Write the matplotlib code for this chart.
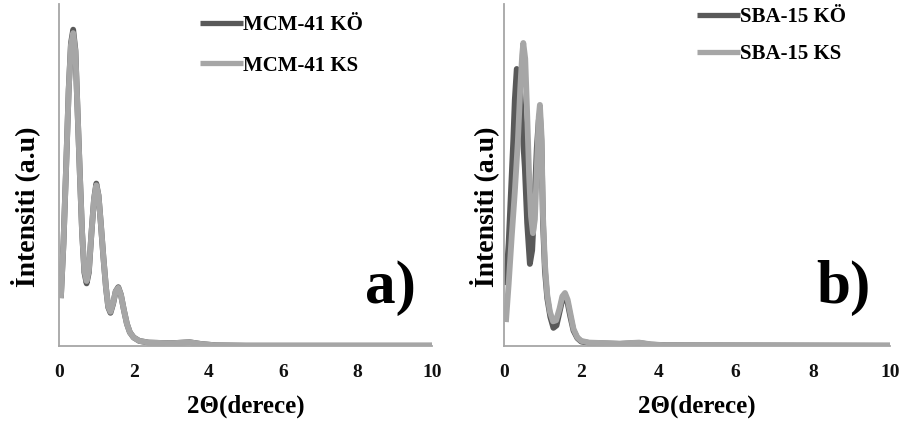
import matplotlib
matplotlib.use("Agg")
import matplotlib.pyplot as plt

# ---- data ----
two_theta_mcm = [0.05, 0.12, 0.19, 0.26, 0.32, 0.38, 0.44, 0.50, 0.56, 0.62, 0.68, 0.74,
                 0.80, 0.87, 0.94, 1.00, 1.06, 1.12, 1.19, 1.26, 1.32, 1.38, 1.45, 1.52,
                 1.59, 1.66, 1.74, 1.82, 1.90, 2.00, 2.15, 2.40, 3.00, 3.50, 3.80, 4.20,
                 5.00, 10.0]
mcm_ks = [14, 30, 52, 75, 88, 91.5, 86, 68, 50, 33, 22, 19,
          22, 33, 43, 47, 44, 36, 26, 17, 11.5, 10, 12.5, 16,
          17, 15, 10.5, 6.5, 4, 2.5, 1.5, 1.0, 0.8, 1.1, 0.6, 0.2,
          0.1, 0.1]
mcm_ko = [14, 30, 52, 75, 88.5, 92.5, 86.5, 68, 50, 33, 21.5, 18.3,
          21.5, 33, 43, 47.5, 44, 36, 26, 17, 11.3, 9.7, 12.3, 16,
          17.2, 15, 10.5, 6.5, 4, 2.5, 1.5, 1.0, 0.8, 1.1, 0.6, 0.2,
          0.1, 0.1]

two_theta_sba_ks = [0.05, 0.12, 0.20, 0.28, 0.36, 0.42, 0.47, 0.50, 0.55, 0.60, 0.65,
                    0.70, 0.75, 0.80, 0.85, 0.90, 0.93, 0.97, 1.01, 1.06, 1.12, 1.19, 1.27,
                    1.35, 1.44, 1.51, 1.58, 1.65, 1.72, 1.80, 1.90, 2.00, 2.20, 3.00, 3.50,
                    3.80, 4.20, 10.0]
sba_ks = [7, 18, 32, 45, 60, 75, 85, 88.6, 84, 68, 50,
          38, 33, 37, 52, 67, 70.5, 62, 38, 24, 15, 10, 7.2,
          7.5, 11, 14.5, 15.5, 13.5, 9.5, 5, 2.5, 1.5, 1.0, 0.7, 1.0,
          0.5, 0.2, 0.1]

two_theta_sba_ko = [0.05, 0.12, 0.18, 0.24, 0.28, 0.33, 0.37, 0.42, 0.48, 0.54,
                    0.60, 0.67, 0.73, 0.79, 0.85, 0.90, 0.93, 0.97, 1.01, 1.06, 1.12, 1.20,
                    1.28, 1.36, 1.44, 1.51, 1.58, 1.65, 1.72, 1.80, 1.90, 2.00, 2.20, 3.00,
                    3.50, 3.80, 4.20, 10.0]
sba_ko = [17.8, 30, 45, 60, 72, 81, 80.5, 75, 63, 52,
          36, 24, 28, 42, 58, 66, 68, 60, 36, 22, 14, 8.5,
          5.3, 6, 10, 13.5, 14.5, 12.5, 8.5, 4.5, 2.3, 1.3, 0.9, 0.6,
          0.9, 0.4, 0.2, 0.1]

x_ticks = [0, 2, 4, 6, 8, 10]
x_ticklabels = ["0", "2", "4", "6", "8", "10"]
labels_mcm = ["MCM-41 KÖ", "MCM-41 KS"]
labels_sba = ["SBA-15 KÖ", "SBA-15 KS"]
panel_tags = ["a)", "b)"]
xlabel = "2Θ(derece)"
ylabel = "İntensiti (a.u)"

DARK = "#595959"
LIGHT = "#a6a6a6"
SPINE = "#a6a6a6"
SERIF = ["Liberation Serif", "DejaVu Serif"]

fig = plt.figure(figsize=(9.04, 4.25), dpi=100)
W, H = 904, 425
base_y = 346
top_y = 4
ax1 = fig.add_axes([59 / W, (H - base_y) / H, (432 - 59) / W, (base_y - top_y) / H])
ax2 = fig.add_axes([504 / W, (H - base_y) / H, (890 - 504) / W, (base_y - top_y) / H])

lw = 4.2
ax1.plot(two_theta_mcm, mcm_ko, color=DARK, lw=lw, solid_joinstyle="round",
         solid_capstyle="butt", label=labels_mcm[0])
ax1.plot(two_theta_mcm, mcm_ks, color=LIGHT, lw=lw, solid_joinstyle="round",
         solid_capstyle="butt", label=labels_mcm[1])
ax2.plot(two_theta_sba_ko, sba_ko, color=DARK, lw=lw, solid_joinstyle="round",
         solid_capstyle="butt", label=labels_sba[0])
ax2.plot(two_theta_sba_ks, sba_ks, color=LIGHT, lw=lw, solid_joinstyle="round",
         solid_capstyle="butt", label=labels_sba[1])

settings = [
    # axes, tag, tag pos, legend bbox (px), label spacing, ylabel x center
    (ax1, panel_tags[0], (390, 288), (194, 9), 0.98, 25),
    (ax2, panel_tags[1], (843, 288), (691, 1), 0.80, 484),
]
for ax, tag, tagpos, lp, lsp, ylx in settings:
    ax.set_xlim(0, 10)
    ax.set_ylim(0, 100)
    for s in ["top", "right"]:
        ax.spines[s].set_visible(False)
    for s in ["left", "bottom"]:
        ax.spines[s].set_color(SPINE)
        ax.spines[s].set_linewidth(1.3)
    ax.set_yticks([])
    ax.set_xticks(x_ticks)
    ax.set_xticklabels(x_ticklabels, fontfamily=SERIF, fontweight="bold", fontsize=14)
    ax.tick_params(axis="x", length=0, pad=13, colors="#111111")
    ax.set_xlabel(xlabel, fontfamily=SERIF, fontweight="bold", fontsize=18, labelpad=10)
    fig.text(ylx / W, 1 - 207 / H, ylabel, rotation=90, fontfamily=SERIF,
             fontweight="bold", fontsize=20, ha="center", va="center")
    fig.text(tagpos[0] / W, 1 - tagpos[1] / H, tag, fontfamily=SERIF, fontweight="bold",
             fontsize=44, ha="center", va="center")
    leg = ax.legend(loc="upper left", bbox_to_anchor=(lp[0] / W, 1 - lp[1] / H),
                    bbox_transform=fig.transFigure, frameon=False,
                    prop={"family": SERIF, "weight": "bold", "size": 15},
                    handlelength=2.05, handletextpad=0.0, labelspacing=lsp,
                    borderpad=0.3, borderaxespad=0)
    for h in leg.get_lines():
        h.set_linewidth(3.8)

fig.savefig("out.png", dpi=100)
